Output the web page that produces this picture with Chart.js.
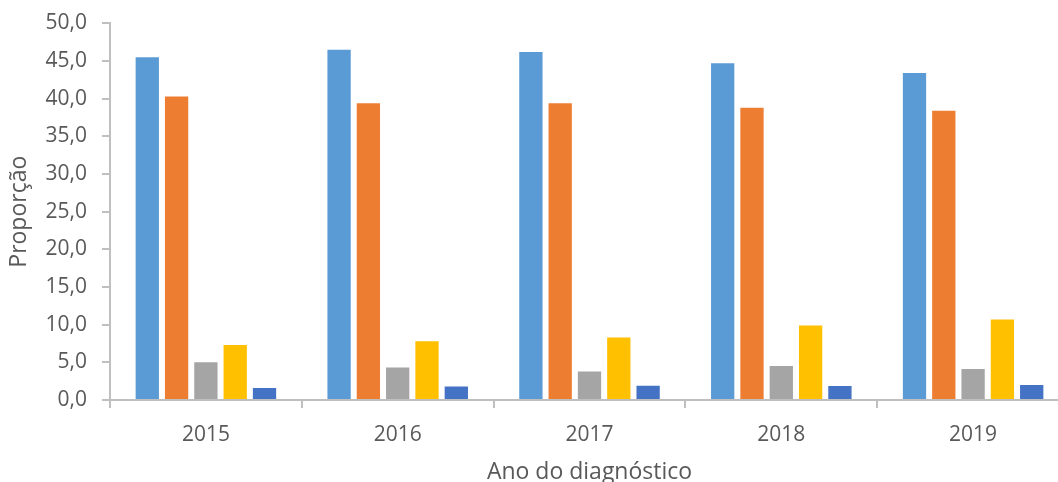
<!DOCTYPE html>
<html>
<head>
<meta charset="utf-8">
<script src="https://cdn.jsdelivr.net/npm/chart.js@4"></script>
<style>
  html, body { margin: 0; padding: 0; background: #fff; overflow: hidden; }
  #wrap { position: relative; width: 1080px; height: 482px; }
</style>
</head>
<body>
<div id="wrap"><canvas id="chart"></canvas></div>
<script>
const years = ['2015', '2016', '2017', '2018', '2019']
const serie1 = [45.5, 46.5, 46.2, 44.7, 43.4]
const serie2 = [40.3, 39.4, 39.4, 38.8, 38.4]
const serie3 = [5.0, 4.3, 3.8, 4.5, 4.1]
const serie4 = [7.3, 7.8, 8.3, 9.9, 10.7]
const serie5 = [1.6, 1.8, 1.9, 1.85, 2.0]
const yTickLabels = ['0,0', '5,0', '10,0', '15,0', '20,0', '25,0', '30,0', '35,0', '40,0', '45,0', '50,0']

const textColor = '#595959'
const axisColor = '#bfbfbf'
const font = { family: 'Open Sans', size: 21 }
const yFont = { family: 'Open Sans', size: 21, lineHeight: 0.8 }
const titleFont = { family: 'Open Sans', size: 23 }

function bars(label, data, color) {
  return {
    label,
    data,
    backgroundColor: color,
    borderWidth: 0,
    barPercentage: 0.795,
    categoryPercentage: 0.764
  }
}

new Chart(document.getElementById('chart'), {
  type: 'bar',
  data: {
    labels: years,
    datasets: [
      bars('Série 1', serie1, '#5b9bd5'),
      bars('Série 2', serie2, '#ed7d31'),
      bars('Série 3', serie3, '#a5a5a5'),
      bars('Série 4', serie4, '#ffc000'),
      bars('Série 5', serie5, '#4472c4')
    ]
  },
  options: {
    responsive: true,
    maintainAspectRatio: false,
    animation: false,
    layout: { padding: { top: 1, right: 11, left: 0, bottom: 0 } },
    plugins: {
      legend: { display: false },
      tooltip: { enabled: false }
    },
    scales: {
      x: {
        afterFit: (s) => { s.height = 82 },
        grid: { drawOnChartArea: false, tickLength: 8, color: axisColor, lineWidth: 2 },
        border: { color: axisColor, width: 2 },
        ticks: { color: textColor, font, padding: 14 },
        title: { display: true, text: 'Ano do diagnóstico', color: textColor, font: titleFont, padding: { top: 0, bottom: -4 } }
      },
      y: {
        min: 0,
        max: 50,
        afterFit: (s) => { s.width = 110 },
        grid: { drawOnChartArea: false, tickLength: 8, color: axisColor, lineWidth: 2 },
        border: { color: axisColor, width: 2 },
        ticks: {
          stepSize: 5,
          color: textColor,
          font: yFont,
          padding: 15,
          callback: (v, i) => yTickLabels[i]
        },
        title: { display: true, text: 'Proporção', color: textColor, font: titleFont, padding: { top: 6, bottom: 0 } }
      }
    }
  }
})
</script>
</body>
</html>
